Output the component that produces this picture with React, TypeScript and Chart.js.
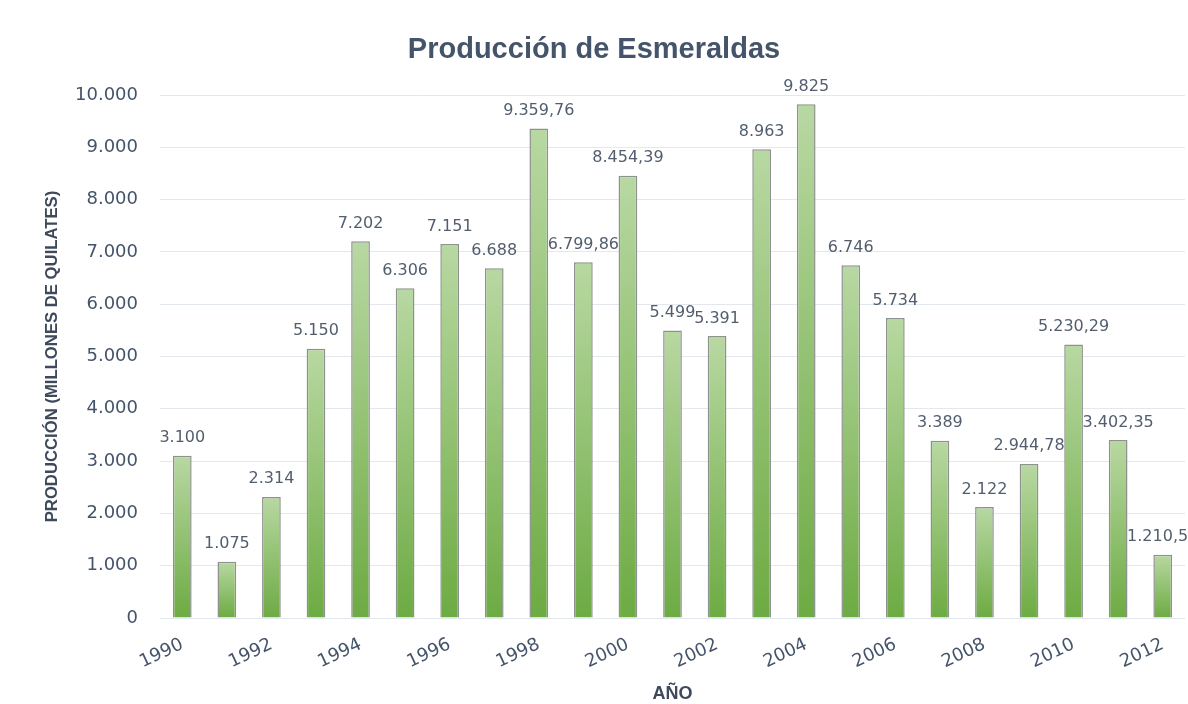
import React, { useEffect, useRef } from 'react';
import { Chart, registerables } from 'chart.js';

Chart.register(...registerables);

// ---- data ----
const years = [
  '1990', '1991', '1992', '1993', '1994', '1995', '1996', '1997', '1998', '1999', '2000',
  '2001', '2002', '2003', '2004', '2005', '2006', '2007', '2008', '2009', '2010', '2011', '2012',
];
const production = [
  3100, 1075, 2314, 5150, 7202, 6306, 7151, 6688, 9359.76, 6799.86, 8454.39,
  5499, 5391, 8963, 9825, 6746, 5734, 3389, 2122, 2944.78, 5230.29, 3402.35, 1210.59,
];
const shownYearLabels = ['1990', '1992', '1994', '1996', '1998', '2000', '2002', '2004', '2006', '2008', '2010', '2012'];

const TITLE = 'Producción de Esmeraldas';
const Y_TITLE = 'PRODUCCIÓN (MILLONES DE QUILATES)';
const X_TITLE = 'AÑO';

// Spanish number formatting: "." thousands, "," decimals
function fmt(v: number): string {
  const isInt = Math.abs(v - Math.round(v)) < 1e-9;
  const s = isInt ? String(Math.round(v)) : v.toFixed(2);
  const [ip, dp] = s.split('.');
  const grouped = ip.replace(/\B(?=(\d{3})+(?!\d))/g, '.');
  return dp ? grouped + ',' + dp : grouped;
}

const TEXT = '#44546a';
const LABEL = '#525e6e';
const AXIS_TITLE = '#3e4a5c';

const textPlugin = {
  id: 'customText',
  afterDatasetsDraw(chart: any) {
    const { ctx } = chart;
    const meta = chart.getDatasetMeta(0);
    ctx.save();
    ctx.font = '16px "DejaVu Sans"';
    ctx.fillStyle = LABEL;
    ctx.textAlign = 'center';
    ctx.textBaseline = 'alphabetic';
    meta.data.forEach((bar: any, i: number) => {
      ctx.fillText(fmt(production[i]), bar.x, bar.y - 13.5);
    });
    ctx.restore();
  },
  afterDraw(chart: any) {
    const { ctx, chartArea, width } = chart;
    ctx.save();
    // main title
    ctx.font = 'bold 29px "Liberation Sans"';
    ctx.fillStyle = TEXT;
    ctx.textAlign = 'center';
    ctx.textBaseline = 'alphabetic';
    ctx.fillText(TITLE, width / 2, 58);
    // x title
    ctx.font = 'bold 18px "Liberation Sans"';
    ctx.fillStyle = AXIS_TITLE;
    ctx.textBaseline = 'middle';
    ctx.fillText(X_TITLE, (chartArea.left + chartArea.right) / 2, 694);
    // y title
    ctx.translate(52, (chartArea.top + chartArea.bottom) / 2);
    ctx.rotate(-Math.PI / 2);
    ctx.font = 'bold 16.7px "Liberation Sans"';
    ctx.fillText(Y_TITLE, 0, 0);
    ctx.restore();
  },
};

export default function App() {
  const ref = useRef<HTMLCanvasElement | null>(null);

  useEffect(() => {
    document.body.style.margin = '0';
    const canvas = ref.current;
    if (!canvas) return;
    const chart = new Chart(canvas, {
      type: 'bar',
      data: {
        labels: years,
        datasets: [
          {
            data: production,
            backgroundColor: (c: any) => {
              const ch = c.chart;
              const { chartArea, scales } = ch;
              if (!chartArea || !scales || !scales.y || c.type !== 'data') return '#93c275';
              const yTop = scales.y.getPixelForValue(c.raw);
              const yBot = scales.y.getPixelForValue(0);
              if (!isFinite(yTop) || !isFinite(yBot) || yTop === yBot) return '#93c275';
              const g = ch.ctx.createLinearGradient(0, yTop, 0, yBot);
              g.addColorStop(0, '#b8d8a2');
              g.addColorStop(1, '#6dab43');
              return g;
            },
            borderColor: '#8e928e',
            borderWidth: 1.5,
            categoryPercentage: 1,
            barPercentage: 0.42,
          },
        ],
      },
      options: {
        responsive: false,
        animation: false,
        layout: { padding: { top: 95, right: 3, bottom: 0, left: 0 } },
        plugins: {
          legend: { display: false },
          title: { display: false },
          tooltip: { enabled: false },
        },
        scales: {
          x: {
            grid: { display: false },
            border: { display: false },
            ticks: {
              autoSkip: false,
              minRotation: 25,
              maxRotation: 25,
              padding: 8,
              color: TEXT,
              font: { family: '"DejaVu Sans"', size: 18 },
              callback: (_v: any, i: number) => (shownYearLabels.includes(years[i]) ? years[i] : ''),
            },
            afterFit: (s: any) => {
              s.height = 86;
            },
          },
          y: {
            min: 0,
            max: 10000,
            grid: { color: '#e3e7ee', lineWidth: 1, drawTicks: false },
            border: { display: false },
            ticks: {
              stepSize: 1000,
              padding: 22,
              color: TEXT,
              font: { family: '"DejaVu Sans"', size: 18 },
              callback: (v: any) => fmt(Number(v)),
            },
            afterFit: (s: any) => {
              s.width = 160;
            },
          },
        },
      },
      plugins: [textPlugin],
    } as any);
    return () => chart.destroy();
  }, []);

  return (
    <div style={{ width: 1188, height: 704 }}>
      <canvas ref={ref} width={1188} height={704} />
    </div>
  );
}
